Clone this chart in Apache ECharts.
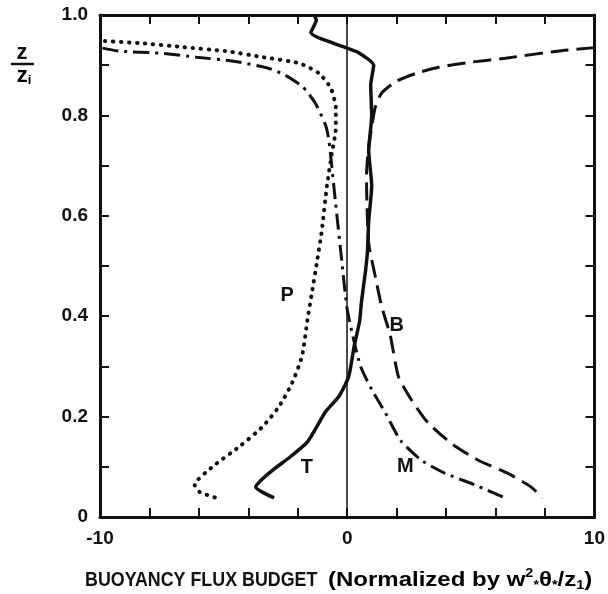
<!DOCTYPE html>
<html>
<head>
<meta charset="utf-8">
<script src="https://cdn.jsdelivr.net/npm/echarts@6/dist/echarts.min.js"></script>
<style>
html, body { margin: 0; background: #fff; }
#main { width: 608px; height: 594px; }
</style>
</head>
<body>
<div id="main"></div>
<script>
// T - solid
var tZ    = [1.0, 0.99, 0.965, 0.935, 0.925, 0.90, 0.86, 0.80, 0.73, 0.66, 0.59, 0.53, 0.49, 0.43, 0.39, 0.34, 0.28, 0.24, 0.21, 0.15, 0.12, 0.09, 0.06, 0.038];
var tFlux = [-1.35, -1.25, -1.47, -0.06, 0.46, 1.07, 0.95, 0.99, 0.87, 0.99, 0.87, 0.82, 0.74, 0.58, 0.50, 0.28, 0.06, -0.34, -0.87, -1.6, -2.3, -3.1, -3.7, -2.96];

// B - dashed
var bZ    = [0.935, 0.928, 0.914, 0.906, 0.896, 0.884, 0.867, 0.845, 0.817, 0.78, 0.73, 0.68, 0.62, 0.545, 0.478, 0.42, 0.36, 0.28, 0.233, 0.187, 0.147, 0.113, 0.087, 0.06, 0.038];
var bFlux = [10, 8.5, 6.4, 5.0, 3.7, 2.8, 1.95, 1.4, 1.14, 1.0, 0.85, 0.78, 0.8, 0.87, 1.14, 1.39, 1.75, 2.07, 2.6, 3.28, 4.2, 5.3, 6.5, 7.43, 7.9];

// M - dash-dot
var mZ    = [0.934, 0.928, 0.924, 0.916, 0.908, 0.894, 0.88, 0.857, 0.825, 0.78, 0.75, 0.625, 0.51, 0.42, 0.37, 0.30, 0.253, 0.207, 0.153, 0.113, 0.087, 0.064, 0.038];
var mFlux = [-9.9, -9.2, -7.6, -6.1, -4.6, -3.2, -2.5, -1.8, -1.3, -0.87, -0.74, -0.47, -0.22, -0.02, 0.18, 0.54, 1.0, 1.55, 2.15, 3.0, 3.96, 5.17, 6.38];

// P - dotted
var pZ    = [0.948, 0.944, 0.936, 0.928, 0.916, 0.904, 0.884, 0.854, 0.815, 0.775, 0.725, 0.66, 0.57, 0.506, 0.446, 0.396, 0.32, 0.267, 0.22, 0.18, 0.14, 0.10, 0.064, 0.05, 0.038];
var pFlux = [-9.8, -8.4, -6.65, -4.9, -3.42, -1.95, -1.15, -0.66, -0.46, -0.46, -0.62, -0.82, -1.03, -1.23, -1.43, -1.6, -1.83, -2.23, -2.76, -3.42, -4.37, -5.45, -6.17, -5.97, -5.3];

// curve labels
var labelNames = ['P', 'B', 'T', 'M'];
var labelFlux  = [-2.43, 2.0, -1.63, 2.35];
var labelZ     = [0.442, 0.382, 0.098, 0.10];

var xLabels = [-10, 0, 10];

var ink = '#111';
var font = 'Liberation Sans';

function pairs(xs, ys) {
    return xs.map(function(x, i) { return [x, ys[i]]; });
}

var myChart = echarts.init(document.getElementById('main'));

var axisCommon = {
    axisLine: { show: true, onZero: false, lineStyle: { color: ink, width: 3 } },
    axisTick: { show: true, inside: true, length: 9, lineStyle: { color: ink, width: 2 } },
    splitLine: { show: false }
};

function curve(name, xs, ys, lineStyle) {
    return {
        name: name,
        type: 'line',
        data: pairs(xs, ys),
        showSymbol: false,
        smooth: 0.2,
        lineStyle: Object.assign({ color: ink, width: 3 }, lineStyle),
        silent: true
    };
}

var graphics = [
    { type: 'text', x: 22, y: 53, style: { text: 'z', font: 'bold 22px ' + font, fill: ink, align: 'center', verticalAlign: 'middle' } },
    { type: 'line', shape: { x1: 11, y1: 64, x2: 34, y2: 64 }, style: { stroke: ink, lineWidth: 2.5 } },
    { type: 'text', x: 24, y: 76, style: {
        text: '{n|z}{s|i}', align: 'center', verticalAlign: 'middle',
        rich: {
            n: { fontFamily: font, fontWeight: 'bold', fontSize: 22, color: ink },
            s: { fontFamily: font, fontWeight: 'bold', fontSize: 13, color: ink, verticalAlign: 'bottom', padding: [9, 0, 0, 0] }
        }
    } },
    { type: 'text', x: 85, y: 580, scaleX: 0.85, style: {
        text: 'BUOYANCY FLUX BUDGET', font: 'bold 21px ' + font, fill: ink, verticalAlign: 'middle'
    } },
    { type: 'text', x: 328, y: 580, scaleX: 1.2, style: {
        text: '{n|(Normalized by w}{sup|2}{sub|*}{n|θ}{sub|*}{n|/z}{sub|1}{n|)}',
        verticalAlign: 'middle',
        rich: {
            n: { fontFamily: font, fontWeight: 'bold', fontSize: 20, color: ink, lineHeight: 24 },
            sup: { fontFamily: font, fontWeight: 'bold', fontSize: 12, color: ink, verticalAlign: 'top', lineHeight: 12 },
            sub: { fontFamily: font, fontWeight: 'bold', fontSize: 12, color: ink, verticalAlign: 'bottom', lineHeight: 12 }
        }
    } }
];

option = {
    backgroundColor: '#fff',
    animation: false,
    grid: { left: 100, right: 11, top: 15, bottom: 77 },
    xAxis: [
        Object.assign({
            type: 'value', min: -10, max: 10, interval: 2, position: 'bottom',
            axisLabel: {
                margin: 12, color: ink, fontFamily: font, fontWeight: 'bold', fontSize: 19,
                formatter: function(v) { return xLabels.indexOf(v) >= 0 ? String(v) : ''; }
            }
        }, axisCommon),
        Object.assign({
            type: 'value', min: -10, max: 10, interval: 2, position: 'top',
            axisLabel: { show: false }
        }, axisCommon)
    ],
    yAxis: [
        Object.assign({
            type: 'value', min: 0, max: 1, interval: 0.1, position: 'left',
            axisLabel: {
                margin: 12, color: ink, fontFamily: font, fontWeight: 'bold', fontSize: 19,
                formatter: function(v) {
                    var k = Math.round(v * 10);
                    if (k % 2) return '';
                    return k === 0 ? '0' : (k / 10).toFixed(1);
                }
            }
        }, axisCommon),
        Object.assign({
            type: 'value', min: 0, max: 1, interval: 0.1, position: 'right',
            axisLabel: { show: false }
        }, axisCommon)
    ],
    graphic: graphics,
    series: [
        Object.assign(curve('T', tFlux, tZ, { type: 'solid', width: 3.5 }), {
            markLine: {
                silent: true, symbol: 'none', label: { show: false },
                lineStyle: { color: ink, width: 1.5, type: 'solid' },
                data: [{ xAxis: 0 }]
            }
        }),
        curve('B', bFlux, bZ, { type: [18, 8] }),
        curve('M', mFlux, mZ, { type: [16, 6, 3, 6] }),
        curve('P', pFlux, pZ, { type: [0.5, 7.5], cap: 'round', width: 4 })
    ]
};

myChart.setOption(option);

// curve letters placed through the chart's own scales
labelNames.forEach(function(n, i) {
    var p = myChart.convertToPixel({ gridIndex: 0 }, [labelFlux[i], labelZ[i]]);
    graphics.push({
        type: 'text', x: p[0], y: p[1],
        style: { text: n, font: 'bold 20px ' + font, fill: ink, align: 'center', verticalAlign: 'middle' }
    });
});
myChart.setOption({ graphic: graphics });
</script>
</body>
</html>
